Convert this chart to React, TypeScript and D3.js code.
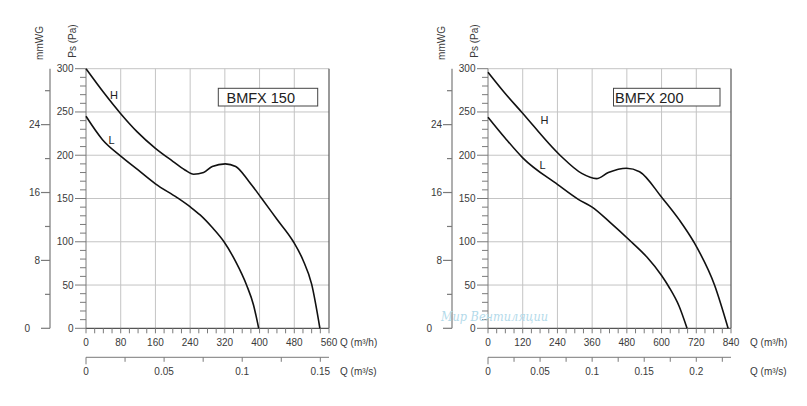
import * as d3 from 'd3';

// Static pressure curves, Q in m³/h, Ps in Pa
const h150: [number, number][] = [[0, 300], [43, 271], [80, 248], [118, 227], [160, 208], [200, 193], [228, 183], [248, 178], [271, 180], [291, 187], [321, 190], [345, 187], [375, 170], [405, 150], [440, 126], [478, 100], [500, 79], [520, 51], [539, 0]];
const l150: [number, number][] = [[0, 245], [38, 218], [80, 199], [120, 183], [160, 167], [210, 151], [241, 140], [263, 131], [290, 117], [318, 100], [345, 77], [370, 50], [386, 27], [398, 0]];
const h200: [number, number][] = [[0, 296], [58, 272], [116, 250], [249, 200], [324, 179], [375, 173], [416, 180], [479, 185], [524, 181], [599, 152], [662, 125], [711, 100], [783, 50], [830, 0]];
const l200: [number, number][] = [[0, 244], [59, 220], [120, 197], [241, 166], [312, 149], [360, 140], [420, 123], [495, 100], [550, 82], [600, 61], [625, 48], [660, 26], [688, 0]];

const paTicks = [0, 50, 100, 150, 200, 250, 300];
const mmwgLabels = [0, 8, 16, 24];
const titles = ['BMFX 150', 'BMFX 200'];
const qMaxes = [560, 840];
const qSteps = [80, 120];
const qsLabels = [[0, 0.05, 0.1, 0.15], [0, 0.05, 0.1, 0.15, 0.2]];

const FONT = '"Liberation Sans", Arial, sans-serif';
const TXT = '#3a3a3a';
const AX = '#7a7a7a';
const GRID = '#c4c4c4';

const yTop = 68.7;
const yBot = 328.3;

interface PanelProps {
  x0: number;
  x1: number;
  qMax: number;
  qStep: number;
  qsLab: number[];
  title: string;
  box: { x: number; w: number; tx: number };
  hLab: [number, number];
  lLab: [number, number];
  qLabX: number;
  curves: [number, number][][];
}

function Panel(p: PanelProps) {
  const x = d3.scaleLinear().domain([0, p.qMax]).range([p.x0, p.x1]);
  const y = d3.scaleLinear().domain([0, 300]).range([yBot, yTop]);
  const ymm = d3.scaleLinear().domain([0, 300 / 9.80665]).range([yBot, yTop]);
  const xs = (v: number) => x(v * 3600);
  const line = d3.line<[number, number]>()
    .x(d => x(d[0]))
    .y(d => y(d[1]))
    .curve(d3.curveMonotoneX);

  const majors = d3.range(0, p.qMax + 1, p.qStep);
  const minors = d3.range(0, p.qMax + 1, p.qStep / 4);
  const paMinor = d3.range(0, 301, 10);
  const mmMinor = d3.range(0, 30, 4);
  const qsTicks = d3.range(0, p.qMax / 3600 + 1e-9, 0.025);
  const ax = p.x0 - 36;
  const axisY2 = 357.3;

  return (
    <g fontFamily={FONT}>
      {/* grid */}
      {paTicks.filter(v => v > 0).map(v => (
        <line key={'h' + v} x1={p.x0} x2={p.x1} y1={y(v)} y2={y(v)} stroke={GRID} strokeWidth={1} />
      ))}
      {majors.filter(v => v > 0 && v < p.qMax).map(v => (
        <line key={'v' + v} x1={x(v)} x2={x(v)} y1={yTop} y2={yBot} stroke={GRID} strokeWidth={1} />
      ))}
      <line x1={p.x1} x2={p.x1} y1={yTop} y2={yBot} stroke="#555" strokeWidth={1.2} />

      {/* Pa axis */}
      <line x1={p.x0} x2={p.x0} y1={yTop} y2={yBot} stroke={AX} strokeWidth={1} />
      {paMinor.map(v => (
        <line key={'pm' + v} x1={p.x0 - (v % 50 === 0 ? 11 : 6)} x2={p.x0} y1={y(v)} y2={y(v)} stroke={AX} strokeWidth={1} />
      ))}
      {paTicks.map(v => (
        <text key={'pl' + v} x={p.x0 - 12.5} y={y(v)} dy="0.35em" textAnchor="end" fontSize={10} fill={TXT}>{v}</text>
      ))}
      <text transform={`translate(${p.x0 - 14},41) rotate(-90)`} textAnchor="middle" dy="0.35em" fontSize={10} fill={TXT}>Ps (Pa)</text>

      {/* mmWG axis */}
      <line x1={ax} x2={ax} y1={yTop} y2={yBot} stroke={AX} strokeWidth={1.2} />
      {mmMinor.map(v => (
        <line key={'mm' + v} x1={ax - (v % 8 === 0 ? 9 : 5)} x2={ax} y1={ymm(v)} y2={ymm(v)} stroke={AX} strokeWidth={1.2} />
      ))}
      {mmwgLabels.map(v => (
        <text key={'ml' + v} x={v === 0 ? ax - 20 : ax - 10} y={ymm(v)} dy="0.35em" textAnchor="end" fontSize={10} fill={TXT}>{v}</text>
      ))}
      <text transform={`translate(${p.x0 - 47},43) rotate(-90)`} textAnchor="middle" dy="0.35em" fontSize={10} fill={TXT}>mmWG</text>

      {/* Q m³/h axis */}
      <line x1={p.x0} x2={p.x1} y1={yBot} y2={yBot} stroke="#555" strokeWidth={1.2} />
      {minors.map(v => (
        <line key={'qm' + v} x1={x(v)} x2={x(v)} y1={yBot} y2={yBot + 5} stroke={AX} strokeWidth={1} />
      ))}
      {majors.map(v => (
        <text key={'ql' + v} x={x(v)} y={342.7} dy="0.35em" textAnchor="middle" fontSize={10} fill={TXT}>{v}</text>
      ))}
      <text x={p.qLabX} y={342.7} dy="0.35em" fontSize={10} fill={TXT}>Q (m³/h)</text>

      {/* Q m³/s axis */}
      <line x1={p.x0} x2={p.x1} y1={axisY2} y2={axisY2} stroke={AX} strokeWidth={1} />
      {qsTicks.map(v => (
        <line key={'sm' + v} x1={xs(v)} x2={xs(v)} y1={axisY2} y2={axisY2 + (v === 0 ? 7 : 4.5)} stroke={AX} strokeWidth={1} />
      ))}
      {p.qsLab.map(v => (
        <text key={'sl' + v} x={xs(v)} y={371.5} dy="0.35em" textAnchor="middle" fontSize={10} fill={TXT}>{v}</text>
      ))}
      <text x={p.qLabX} y={371.5} dy="0.35em" fontSize={10} fill={TXT}>Q (m³/s)</text>

      {/* curves */}
      {p.curves.map((c, i) => (
        <path key={'c' + i} d={line(c) ?? ''} fill="none" stroke="#111" strokeWidth={1.6} />
      ))}
      <text x={p.hLab[0]} y={p.hLab[1]} dy="0.35em" textAnchor="middle" fontSize={11} fill="#222">H</text>
      <text x={p.lLab[0]} y={p.lLab[1]} dy="0.35em" textAnchor="middle" fontSize={11} fill="#222">L</text>

      {/* title box */}
      <rect x={p.box.x} y={88.3} width={p.box.w} height={17.7} fill="#fff" stroke="#444" strokeWidth={1} />
      <text x={p.box.tx} y={97.3} dy="0.36em" fontSize={14.5} fill="#222">{p.title}</text>
    </g>
  );
}

export default function App() {
  return (
    <svg width={807} height={406} viewBox="0 0 807 406" style={{ position: 'absolute', left: 0, top: 0, background: '#fff' }}>
      <rect width={807} height={406} fill="#fff" />
      <Panel
        x0={86} x1={329} qMax={qMaxes[0]} qStep={qSteps[0]} qsLab={qsLabels[0]}
        title={titles[0]} box={{ x: 218.3, w: 99.4, tx: 226.5 }}
        hLab={[114, 95]} lLab={[111.5, 140]} qLabX={340}
        curves={[h150, l150]}
      />
      <Panel
        x0={488} x1={731} qMax={qMaxes[1]} qStep={qSteps[1]} qsLab={qsLabels[1]}
        title={titles[1]} box={{ x: 613.5, w: 106.5, tx: 615 }}
        hLab={[544.5, 120]} lLab={[542.5, 165.5]} qLabX={750}
        curves={[h200, l200]}
      />
      <text x={441} y={321} fontSize={12} fontStyle="italic" fontFamily='"DejaVu Serif", serif' fill="#b3daea" textLength={107} lengthAdjust="spacingAndGlyphs">Мир Вентиляции</text>
    </svg>
  );
}
